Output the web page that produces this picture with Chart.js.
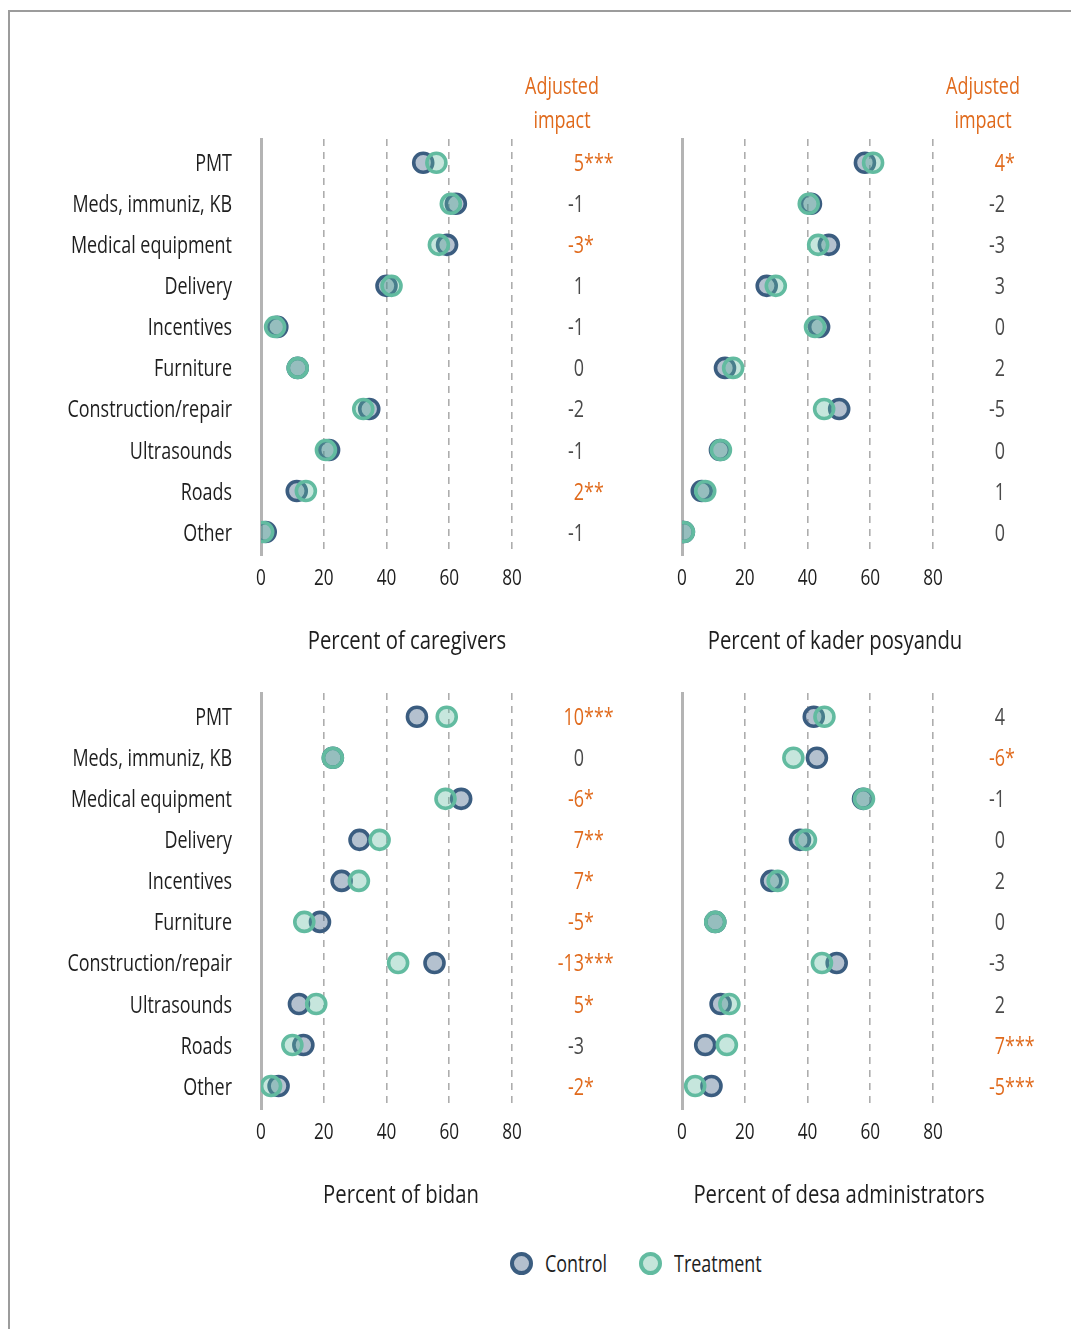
<!DOCTYPE html>
<html>
<head>
<meta charset="utf-8">
<script src="https://cdn.jsdelivr.net/npm/chart.js@4.4.1/dist/chart.umd.min.js"></script>
<style>
  html, body { margin: 0; padding: 0; background: #fff; }
  #page { position: relative; width: 1071px; height: 1329px; overflow: hidden; background: #fff;
          font-family: "Open Sans", sans-serif; }
  #frame { position: absolute; left: 8px; top: 10px; width: 1200px; height: 1400px;
           border-top: 2px solid #9c9c9c; border-left: 2px solid #9c9c9c; }
  .panel { position: absolute; }
  #legend { position: absolute; top: 1249px; left: 0; width: 1071px; height: 30px; }
  .key { position: absolute; top: 0; height: 28px; display: flex; align-items: center; }
  .dot { width: 15px; height: 15px; border-radius: 50%; flex: none; }
  .key-text { display: inline-block; margin-left: 12px; font-size: 23px; color: #1e1e1e;
              transform: scaleX(0.78); transform-origin: left center; white-space: nowrap; }
</style>
</head>
<body>
<div id="page">
  <div id="frame"></div>
  <canvas id="c1" class="panel" style="left:20px; top:50px;" width="620" height="620"></canvas>
  <canvas id="c2" class="panel" style="left:640px; top:50px;" width="425" height="620"></canvas>
  <canvas id="c3" class="panel" style="left:20px; top:604px;" width="620" height="620"></canvas>
  <canvas id="c4" class="panel" style="left:640px; top:604px;" width="425" height="620"></canvas>
  <div id="legend">
    <div class="key" style="left:510px;"><span class="dot" style="border:4px solid #3b5d80; background:#b4c0ce;"></span><span class="key-text">Control</span></div>
    <div class="key" style="left:639px;"><span class="dot" style="border:4px solid #62bba0; background:#c5e5da;"></span><span class="key-text">Treatment</span></div>
  </div>
</div>
<script>
// Spending categories shown on every panel
const categories = ['PMT', 'Meds, immuniz, KB', 'Medical equipment', 'Delivery', 'Incentives',
  'Furniture', 'Construction/repair', 'Ultrasounds', 'Roads', 'Other'];

const xTicks = [0, 20, 40, 60, 80];

// Percent of caregivers
const caregiversControl   = [51.7, 62.1, 59.3, 40.0, 5.2, 11.7, 34.5, 21.7, 11.4, 1.5];
const caregiversTreatment = [55.9, 60.5, 56.7, 41.6, 4.5, 11.7, 32.6, 20.7, 14.3, 0.7];
const caregiversImpact    = ['5***', '-1', '-3*', '1', '-1', '0', '-2', '-1', '2**', '-1'];

// Percent of kader posyandu
const kaderControl   = [58.3, 41.1, 46.8, 27.0, 43.7, 13.7, 50.1, 12.1, 6.3, 0.6];
const kaderTreatment = [60.9, 40.4, 43.4, 29.9, 42.4, 16.3, 45.3, 12.4, 7.4, 0.6];
const kaderImpact    = ['4*', '-2', '-3', '3', '0', '2', '-5', '0', '1', '0'];

// Percent of bidan
const bidanControl   = [49.7, 22.9, 63.8, 31.4, 25.7, 18.8, 55.3, 12.1, 13.5, 5.6];
const bidanTreatment = [59.2, 22.9, 58.8, 37.8, 31.2, 13.8, 43.7, 17.6, 10.0, 3.2];
const bidanImpact    = ['10***', '0', '-6*', '7**', '7*', '-5*', '-13***', '5*', '-3', '-2*'];

// Percent of desa administrators
const desaControl   = [42.0, 43.0, 57.7, 37.6, 28.5, 10.6, 49.3, 12.3, 7.4, 9.4];
const desaTreatment = [45.4, 35.5, 58.0, 39.5, 30.5, 10.6, 44.6, 15.1, 14.3, 4.2];
const desaImpact    = ['4', '-6*', '-1', '0', '2', '0', '-3', '2', '7***', '-5***'];

const FONT = '"Open Sans", sans-serif';
const SQUEEZE = 0.78;           // narrow, condensed look for all lettering
const TEXT_DROP = 2;            // optical centring of the lettering on its row
const ORANGE = '#e06a1c';
const GREY_TEXT = '#4a4a4a';
const INK = '#1e1e1e';

function drawText(ctx, text, x, y, size, color, align) {
  ctx.save();
  ctx.font = size + 'px ' + FONT;
  ctx.fillStyle = color;
  ctx.textAlign = align;
  ctx.textBaseline = 'middle';
  ctx.translate(x, y + TEXT_DROP);
  ctx.scale(SQUEEZE, 1);
  ctx.fillText(text, 0, 0);
  ctx.restore();
}

// Category labels, tick labels, the "Adjusted impact" column and the axis title
const sidePlugin = {
  id: 'sideText',
  afterDraw(chart, args, opts) {
    const { ctx, chartArea } = chart;
    const xScale = chart.scales.x;
    const yScale = chart.scales.y;

    if (opts.showLabels) {
      categories.forEach((c, i) => {
        drawText(ctx, c, chartArea.left - 29, yScale.getPixelForValue(i), 23, INK, 'right');
      });
    }
    xTicks.forEach(v => {
      drawText(ctx, String(v), xScale.getPixelForValue(v), chartArea.bottom + 22, 22, INK, 'center');
    });

    if (opts.header) {
      const hx = chartArea.right + 50;
      drawText(ctx, 'Adjusted', hx, chartArea.top - 54, 23, ORANGE, 'center');
      drawText(ctx, 'impact', hx, chartArea.top - 20, 23, ORANGE, 'center');
    }
    const nx = chartArea.right + 72;
    opts.impact.forEach((label, i) => {
      const y = yScale.getPixelForValue(i);
      const m = label.match(/^(-?\d+)(\**)$/);
      const color = m[2] ? ORANGE : GREY_TEXT;
      drawText(ctx, m[1], nx, y, 23, color, 'right');
      if (m[2]) drawText(ctx, m[2], nx, y, 23, color, 'left');
    });

    drawText(ctx, opts.title, chartArea.left + opts.titleShift, chartArea.bottom + 85, 26, INK, 'center');
  }
};

function makePanel(id, control, treatment, impact, title, opts) {
  const toPoints = arr => arr.map((v, i) => ({ x: v, y: i }));
  return new Chart(document.getElementById(id), {
    type: 'scatter',
    data: {
      datasets: [
        {
          label: 'Control',
          data: toPoints(control),
          order: 2,
          pointRadius: 9.5,
          pointHoverRadius: 9.5,
          borderWidth: 3.6,
          borderColor: '#3b5d80',
          backgroundColor: 'rgba(59,93,128,0.38)'
        },
        {
          label: 'Treatment',
          data: toPoints(treatment),
          order: 1,
          pointRadius: 9.5,
          pointHoverRadius: 9.5,
          borderWidth: 3.6,
          borderColor: '#62bba0',
          backgroundColor: 'rgba(98,187,160,0.36)'
        }
      ]
    },
    options: {
      responsive: false,
      animation: false,
      events: [],
      layout: { padding: { top: 89, right: opts.rightPad, left: 0, bottom: 0 } },
      plugins: {
        legend: { display: false },
        tooltip: { enabled: false },
        sideText: { impact: impact, title: title, header: opts.header,
                    titleShift: opts.titleShift, showLabels: opts.showLabels }
      },
      scales: {
        x: {
          type: 'linear',
          min: xTicks[0],
          max: xTicks[xTicks.length - 1],
          afterBuildTicks: s => { s.ticks = xTicks.map(v => ({ value: v })); },
          afterFit: s => { s.height = 115; },
          border: { display: false, dash: [7, 6] },
          grid: {
            drawTicks: false,
            color: c => (c.tick && c.tick.value === 0) ? 'rgba(0,0,0,0)' : '#adadad',
            lineWidth: 1.6
          },
          ticks: { display: false }
        },
        y: {
          type: 'linear',
          reverse: true,
          min: -0.58,
          max: categories.length - 0.44,
          afterBuildTicks: s => { s.ticks = categories.map((c, i) => ({ value: i })); },
          afterFit: s => { s.width = opts.axisWidth; },
          border: { display: true, color: '#b4b4b4', width: 3 },
          grid: { display: false, drawTicks: false },
          ticks: { display: false }
        }
      }
    },
    plugins: [sidePlugin]
  });
}

const leftOpts  = { axisWidth: 241, rightPad: 128, showLabels: true };
const rightOpts = { axisWidth: 42,  rightPad: 132, showLabels: false };

makePanel('c1', caregiversControl, caregiversTreatment, caregiversImpact, 'Percent of caregivers',
  Object.assign({}, leftOpts, { header: true, titleShift: 146 }));
makePanel('c2', kaderControl, kaderTreatment, kaderImpact, 'Percent of kader posyandu',
  Object.assign({}, rightOpts, { header: true, titleShift: 153 }));
makePanel('c3', bidanControl, bidanTreatment, bidanImpact, 'Percent of bidan',
  Object.assign({}, leftOpts, { header: false, titleShift: 140 }));
makePanel('c4', desaControl, desaTreatment, desaImpact, 'Percent of desa administrators',
  Object.assign({}, rightOpts, { header: false, titleShift: 157 }));
</script>
</body>
</html>
